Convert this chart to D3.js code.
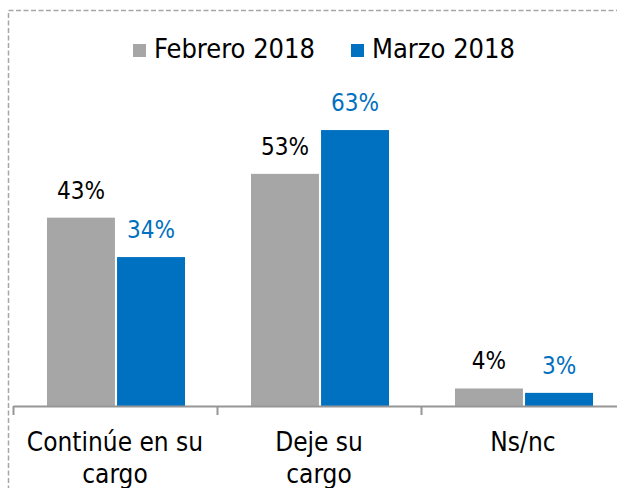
<!DOCTYPE html>
<html>
<head>
<meta charset="utf-8">
<script src="https://cdn.jsdelivr.net/npm/d3@7"></script>
<style>
  html, body { margin: 0; padding: 0; background: #fff; }
  svg { display: block; font-family: "DejaVu Sans Condensed", "DejaVu Sans", sans-serif; }
</style>
</head>
<body>
<svg id="chart" width="617" height="488"></svg>
<script>
const categories = [["Continúe en su", "cargo"], ["Deje su", "cargo"], ["Ns/nc"]];
const series = ["Febrero 2018", "Marzo 2018"];
const febrero = [43, 53, 4];
const marzo = [34, 63, 3];
const colors = ["#a6a6a6", "#0070c0"];
const labelColors = ["#000000", "#0070c0"];

const svg = d3.select("#chart");

// dashed frame (cropped on the right/bottom like the source)
svg.append("rect")
  .attr("x", 8.5).attr("y", 10.5)
  .attr("width", 640).attr("height", 500)
  .attr("fill", "none")
  .attr("stroke", "#a6a6a6")
  .attr("stroke-width", 1.5)
  .attr("stroke-dasharray", "5,2.5");

const axisY = 406;
const catKeys = categories.map(c => c.join(" "));

const x = d3.scaleBand().domain(catKeys).range([13, 625]);
const xSub = d3.scaleBand().domain(series).range([34, 172]).paddingInner(0.03);
const y = d3.scaleLinear().domain([0, 70]).range([axisY, axisY - 70 * 4.38]);

const data = [];
catKeys.forEach((c, i) => {
  data.push({ cat: c, s: series[0], v: febrero[i], k: 0 });
  data.push({ cat: c, s: series[1], v: marzo[i], k: 1 });
});

svg.selectAll(".bar")
  .data(data)
  .enter().append("rect")
  .attr("class", "bar")
  .attr("x", d => x(d.cat) + xSub(d.s))
  .attr("y", d => y(d.v))
  .attr("width", xSub.bandwidth())
  .attr("height", d => axisY - y(d.v))
  .attr("fill", d => colors[d.k]);

svg.selectAll(".val")
  .data(data)
  .enter().append("text")
  .attr("class", "val")
  .attr("x", d => x(d.cat) + xSub(d.s) + xSub.bandwidth() / 2)
  .attr("y", d => y(d.v) - 19)
  .attr("text-anchor", "middle")
  .attr("font-size", 24)
  .attr("fill", d => labelColors[d.k])
  .text(d => d.v + "%");

// axis with ticks between categories
const edge = d3.scaleLinear().domain([0, catKeys.length]).range(x.range());
const axis = svg.append("g")
  .attr("transform", "translate(0," + axisY + ")")
  .call(d3.axisBottom(edge).tickValues(d3.range(catKeys.length + 1)).tickFormat("").tickSize(9).tickSizeOuter(0));
axis.selectAll("path, line").attr("stroke", "#969696").attr("stroke-width", 2);

const catLabels = svg.selectAll(".cat")
  .data(categories)
  .enter().append("text")
  .attr("class", "cat")
  .attr("text-anchor", "middle")
  .attr("font-size", 26)
  .attr("fill", "#000");
catLabels.each(function(lines, i) {
  const cx = x(catKeys[i]) + x.bandwidth() / 2;
  d3.select(this).selectAll("tspan")
    .data(lines)
    .enter().append("tspan")
    .attr("x", cx)
    .attr("y", (d, j) => 451 + j * 32)
    .text(d => d);
});

// legend
const legendX = [133, 351];
const legend = svg.selectAll(".leg")
  .data(series)
  .enter().append("g")
  .attr("class", "leg")
  .attr("transform", (d, i) => "translate(" + legendX[i] + ",0)");
legend.append("rect")
  .attr("x", 0).attr("y", 44)
  .attr("width", 13).attr("height", 13)
  .attr("fill", (d, i) => colors[i]);
legend.append("text")
  .attr("x", 21).attr("y", 58)
  .attr("font-size", 27)
  .attr("fill", "#000")
  .text(d => d);
</script>
</body>
</html>
